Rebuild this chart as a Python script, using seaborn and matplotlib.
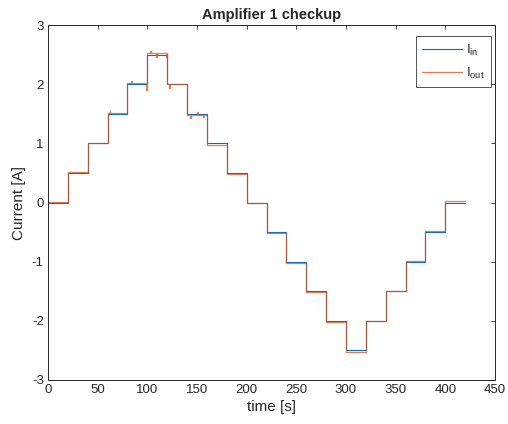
import numpy as np
import pandas as pd
import matplotlib
matplotlib.use("Agg")
import matplotlib.pyplot as plt
import seaborn as sns

# Donnees
step_t = [0, 20, 40, 60, 80, 100, 120, 140, 160, 180, 200,
          220, 240, 260, 280, 300, 320, 340, 360, 380, 400]
t_end = 420
level_in = [0, 0.5, 1.0, 1.5, 2.0, 2.5, 2.0, 1.5, 1.0, 0.5, 0,
            -0.5, -1.0, -1.5, -2.0, -2.5, -2.0, -1.5, -1.0, -0.5, 0]
level_out = [0.01, 0.51, 1.01, 1.51, 2.02, 2.52, 2.0, 1.48, 0.98, 0.48, -0.01,
             -0.52, -1.02, -1.52, -2.02, -2.52, -2.01, -1.49, -0.99, -0.49, 0.02]
# petits pics visibles sur la sortie
spike_t = [62, 84, 99, 103, 109, 119, 122, 143, 150, 156]
spike_v = [1.54, 2.05, 1.90, 2.56, 2.46, 2.46, 1.94, 1.43, 1.53, 1.44]


def build_trace(levels, spikes_t=(), spikes_v=()):
    t = list(step_t) + [t_end]
    y = list(levels) + [levels[-1]]
    for st, sv in zip(spikes_t, spikes_v):
        k = max(i for i, s in enumerate(step_t) if s <= st)
        t += [st, st + 0.6]
        y += [sv, levels[k]]
    df = pd.DataFrame({"t": t, "y": y}).sort_values("t", kind="stable")
    return df


df_in = build_trace(level_in)
df_out = build_trace(level_out, spike_t, spike_v)

sns.set_style("white")
plt.rcParams["font.family"] = ["Liberation Sans", "DejaVu Sans"]
plt.rcParams["mathtext.fontset"] = "custom"
plt.rcParams["mathtext.rm"] = "Liberation Sans"
plt.rcParams["mathtext.it"] = "Liberation Sans"

fig = plt.figure(figsize=(5.08, 4.24), dpi=100)
ax = fig.add_axes([48 / 508, 1 - 380 / 424, 447 / 508, 355 / 424])

sns.lineplot(data=df_in, x="t", y="y", ax=ax, color="#0072BD", linewidth=0.8,
             drawstyle="steps-post", label=r"I$_{\mathrm{in}}$", estimator=None, sort=False)
sns.lineplot(data=df_out, x="t", y="y", ax=ax, color="#D95319", linewidth=0.9, alpha=0.75,
             drawstyle="steps-post", label=r"I$_{\mathrm{out}}$", estimator=None, sort=False)

ax.set_xlim(0, 450)
ax.set_ylim(-3, 3)
ax.set_xticks(np.arange(0, 451, 50))
ax.set_yticks(np.arange(-3, 4, 1))
ax.set_yticklabels([str(v) for v in range(-3, 4)])
ax.set_xlabel("time [s]", fontsize=11, color="#262626", labelpad=3)
ax.set_ylabel("Current [A]", fontsize=11, color="#262626")
ax.set_title("Amplifier 1 checkup", fontsize=10.5, fontweight="bold", pad=4)
ax.tick_params(direction="in", top=True, right=True, length=3, width=0.6,
               labelsize=9.5, colors="#262626", pad=3)
for sp in ax.spines.values():
    sp.set_color("#262626")
    sp.set_linewidth(0.7)

leg = ax.legend(loc="upper right", fontsize=9.5, handlelength=3, frameon=True,
                fancybox=False, edgecolor="#262626", borderaxespad=0.3,
                handletextpad=0.3, borderpad=0.5, labelspacing=0.6,
                bbox_to_anchor=(1.0, 0.98))
leg.get_frame().set_linewidth(0.7)

plt.savefig("out.png", dpi=100)
